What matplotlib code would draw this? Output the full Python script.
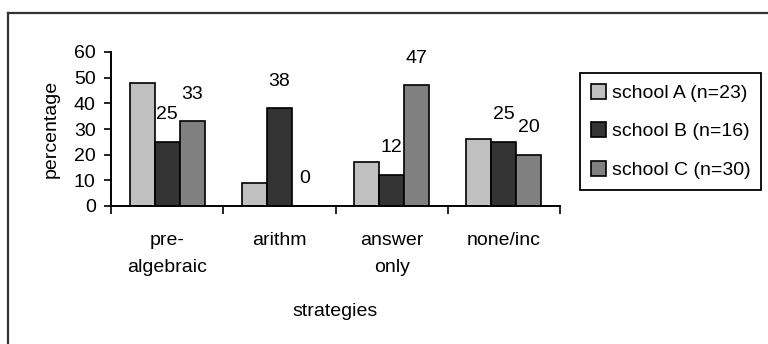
import numpy as np
import matplotlib
matplotlib.use('Agg')
import matplotlib.pyplot as plt
from matplotlib.lines import Line2D

plt.rcParams['font.family'] = ['Liberation Sans', 'DejaVu Sans']

categories = ['pre-\nalgebraic', 'arithm', 'answer\nonly', 'none/inc']
schools = ['school A (n=23)', 'school B (n=16)', 'school C (n=30)']
school_a = [48, 9, 17, 26]
school_b = [25, 38, 12, 25]
school_c = [33, 0, 47, 20]
colors = ['#c0c0c0', '#333333', '#808080']

W, H = 768, 344
fs = 14
fig = plt.figure(figsize=(W / 100, H / 100), dpi=100)

# outer chart frame (runs off the right and bottom edges)
fig.add_artist(Line2D([8 / W, 8 / W], [1 - 13 / H, -0.1], color='#333333', lw=1.6, transform=fig.transFigure))
fig.add_artist(Line2D([8 / W, 1.1], [1 - 13 / H, 1 - 13 / H], color='#333333', lw=1.6, transform=fig.transFigure))

ax = fig.add_axes([111 / W, 1 - 206 / H, (560 - 111) / W, (206 - 52) / H])

x = np.arange(len(categories)) + 0.5
bw = 0.223
series = [school_a, school_b, school_c]
bars = []
for i, (vals, c) in enumerate(zip(series, colors)):
    b = ax.bar(x + (i - 1) * bw, vals, bw, color=c, edgecolor='black', linewidth=1.2, label=schools[i])
    bars.append(b)

# value labels only for school B and C
for vals, off in ((school_b, 0), (school_c, 1)):
    for xi, v in zip(x + off * bw, vals):
        ax.annotate(str(v), (xi, v), xytext=(0, 13.5), textcoords='offset points',
                    ha='center', va='bottom', fontsize=fs)

ax.set_xlim(0, 4)
ax.set_ylim(0, 60)
ax.set_yticks(range(0, 61, 10))
ax.set_xticks([0, 1, 2, 3, 4])
ax.set_xticklabels([])
ax.set_xticks(x, minor=True)
ax.set_xticklabels(categories, minor=True, fontsize=fs, linespacing=1.75)
ax.tick_params(axis='x', which='minor', length=0, pad=19)
ax.tick_params(axis='x', which='major', length=6, width=1.2, direction='out')
ax.tick_params(axis='y', length=5, width=1.2, labelsize=fs, pad=6)
for s in ('top', 'right'):
    ax.spines[s].set_visible(False)
for s in ('left', 'bottom'):
    ax.spines[s].set_linewidth(1.4)

ax.set_ylabel('percentage', fontsize=fs, labelpad=10)
ax.set_xlabel('strategies', fontsize=fs, labelpad=19)

leg = fig.legend(handles=bars, labels=schools, loc='upper left',
                 bbox_to_anchor=(580 / W, 1 - 73 / H), borderaxespad=0,
                 fontsize=fs, handlelength=0.8, handleheight=0.8, handletextpad=0.3,
                 labelspacing=1.05, borderpad=0.55, fancybox=False, framealpha=1)
leg.get_frame().set_edgecolor('black')
leg.get_frame().set_linewidth(1.3)

fig.savefig('out.png', dpi=100)
